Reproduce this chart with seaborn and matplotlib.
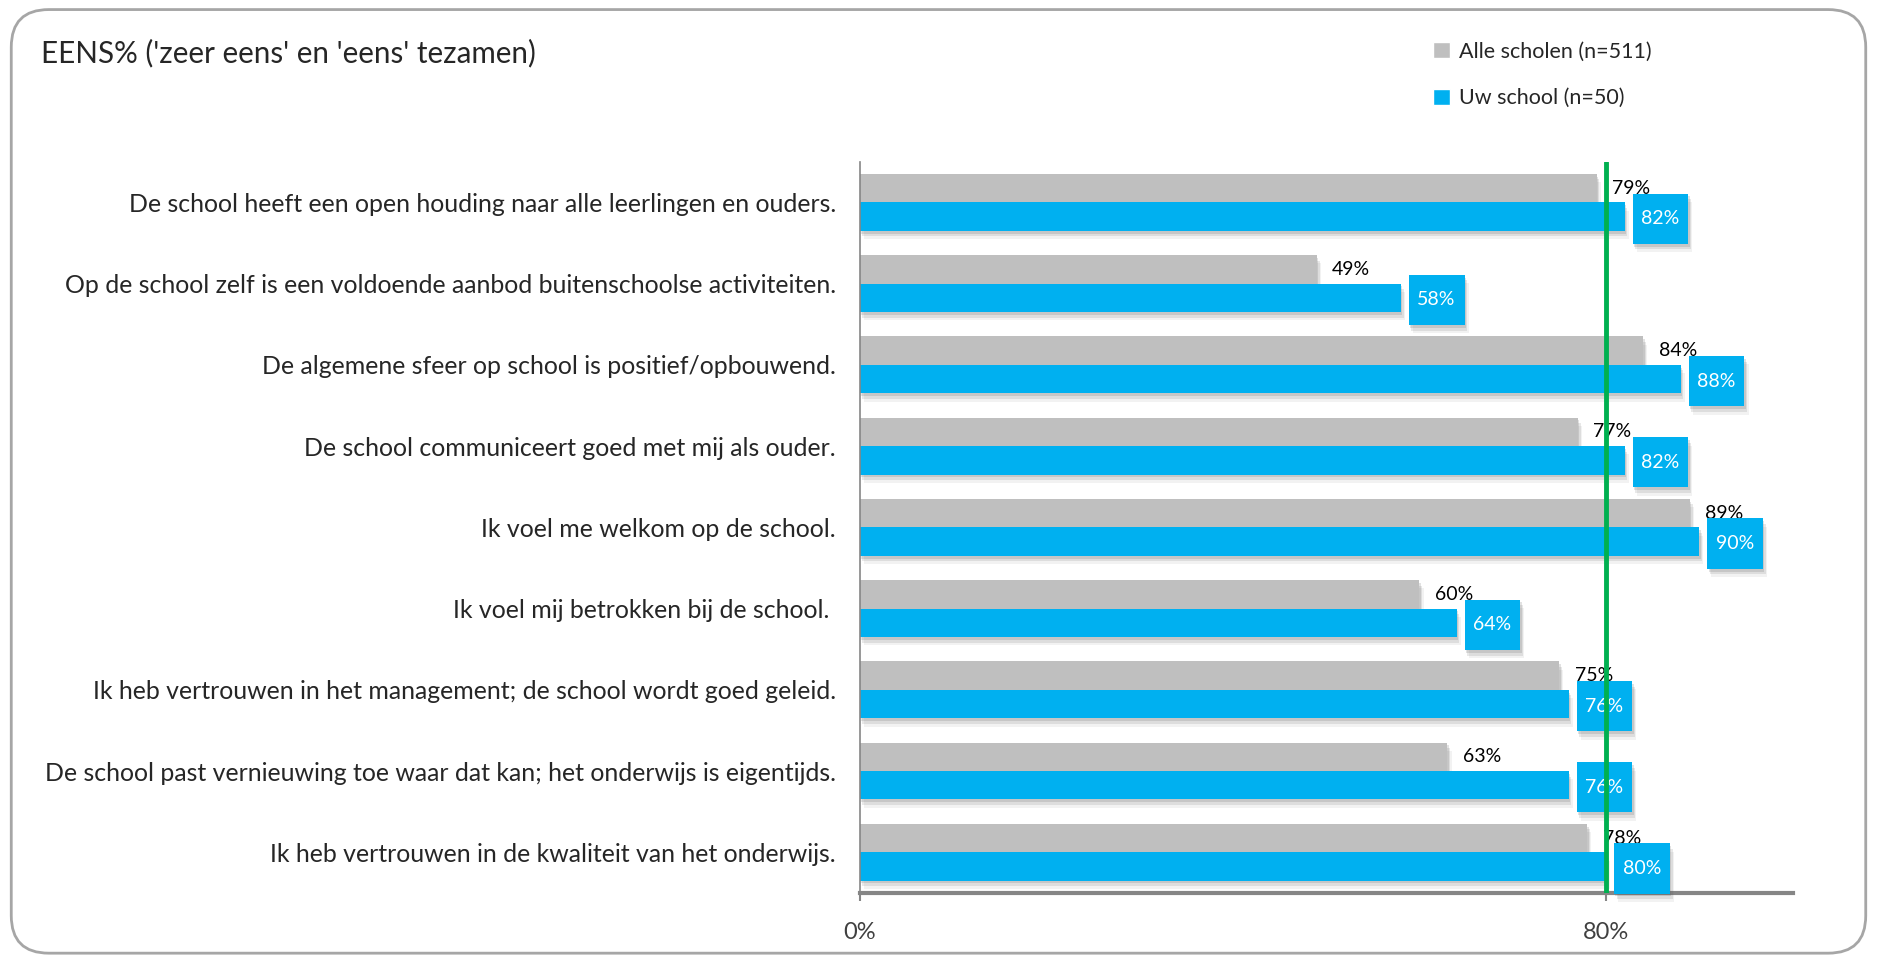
import pandas as pd
import matplotlib
matplotlib.use("Agg")
import matplotlib.pyplot as plt
import matplotlib.patheffects as pe
from matplotlib.patches import FancyBboxPatch, Patch
import seaborn as sns

# data
stellingen = [
    "De school heeft een open houding naar alle leerlingen en ouders.",
    "Op de school zelf is een voldoende aanbod buitenschoolse activiteiten.",
    "De algemene sfeer op school is positief/opbouwend.",
    "De school communiceert goed met mij als ouder.",
    "Ik voel me welkom op de school.",
    "Ik voel mij betrokken bij de school. ",
    "Ik heb vertrouwen in het management; de school wordt goed geleid.",
    "De school past vernieuwing toe waar dat kan; het onderwijs is eigentijds.",
    "Ik heb vertrouwen in de kwaliteit van het onderwijs.",
]
alle_scholen = [79, 49, 84, 77, 89, 60, 75, 63, 78]
uw_school = [82, 58, 88, 82, 90, 64, 76, 76, 80]
groepen = ["Alle scholen (n=511)", "Uw school (n=50)"]
norm = 80

df = pd.DataFrame({
    "stelling": stellingen * 2,
    "groep": [groepen[0]] * len(stellingen) + [groepen[1]] * len(stellingen),
    "eens": alle_scholen + uw_school,
})

sns.set_style("white")
plt.rcParams['font.family'] = ['Lato', 'DejaVu Sans']

grijs = "#BFBFBF"
blauw = "#00B0F0"
groen = "#00B050"
tekst = "#262626"

fig = plt.figure(figsize=(18.77, 9.57), dpi=100)
ax = fig.add_axes([0.458, 0.067, 0.497, 0.764])

sns.barplot(data=df, y="stelling", x="eens", hue="groep", orient="h",
            palette=[grijs, blauw], width=0.7, ax=ax, legend=False,
            saturation=1)

# soft drop shadow, a few stacked layers
shadow = [pe.SimplePatchShadow(offset=(1, -2), shadow_rgbFace="#606060", alpha=0.18),
          pe.SimplePatchShadow(offset=(2, -4), shadow_rgbFace="#606060", alpha=0.14),
          pe.SimplePatchShadow(offset=(3, -6), shadow_rgbFace="#606060", alpha=0.08),
          pe.Normal()]
for c in ax.containers:
    for bar in c:
        bar.set_edgecolor("none")
        bar.set_path_effects(shadow)

# data labels
for bar in ax.containers[0]:
    v = bar.get_width()
    yc = bar.get_y() + bar.get_height() / 2
    ax.annotate(f"{v:.0f}%", (v, yc), xytext=(11, 0), textcoords="offset points",
                ha="left", va="center", fontsize=14, color="black")
for bar in ax.containers[1]:
    v = bar.get_width()
    yc = bar.get_y() + bar.get_height() / 2
    t = ax.annotate(f"{v:.0f}%", (v, yc), xytext=(12, -1.5), textcoords="offset points",
                    ha="left", va="center", fontsize=14, color="white",
                    bbox=dict(boxstyle="square,pad=0.45", fc=blauw, ec="none",
                              mutation_aspect=1.9))
    t.get_bbox_patch().set_path_effects(shadow)

ax.axvline(norm, color=groen, lw=3.5, zorder=5)

ax.set_xlim(0, 100)
ax.set_ylim(len(stellingen) - 0.5, -0.5)
ax.set_xticks([0, 80])
ax.set_xticklabels(["0%", "80%"])
ax.set_xlabel("")
ax.set_ylabel("")
ax.tick_params(axis="x", length=6, width=1.5, color="#868686", pad=15,
               labelsize=17, labelcolor="#404040", bottom=True)
ax.tick_params(axis="y", length=0, pad=17, labelsize=17.9, labelcolor=tekst)

for s in ["top", "right"]:
    ax.spines[s].set_visible(False)
ax.spines["left"].set_color("#868686")
ax.spines["left"].set_linewidth(1.2)
ax.spines["bottom"].set_color("#868686")
ax.spines["bottom"].set_linewidth(3)

fig.text(0.022, 0.945, "EENS% ('zeer eens' en 'eens' tezamen)", fontsize=21.3,
         color=tekst, va="center", ha="left")

handles = [Patch(facecolor=grijs, label=groepen[0]), Patch(facecolor=blauw, label=groepen[1])]
fig.legend(handles=handles, loc="upper left", bbox_to_anchor=(0.753, 0.977),
           frameon=False, fontsize=15.5, handlelength=0.8, handleheight=0.8,
           handletextpad=0.4, labelspacing=1.25, labelcolor=tekst)

border = FancyBboxPatch((0.006, 0.004), 0.988, 0.986, transform=fig.transFigure,
                        boxstyle="round,pad=0,rounding_size=0.02", fc="none",
                        ec="#A6A6A6", lw=2, mutation_aspect=1877 / 957)
fig.patches.append(border)

fig.savefig("out.png", dpi=100)
